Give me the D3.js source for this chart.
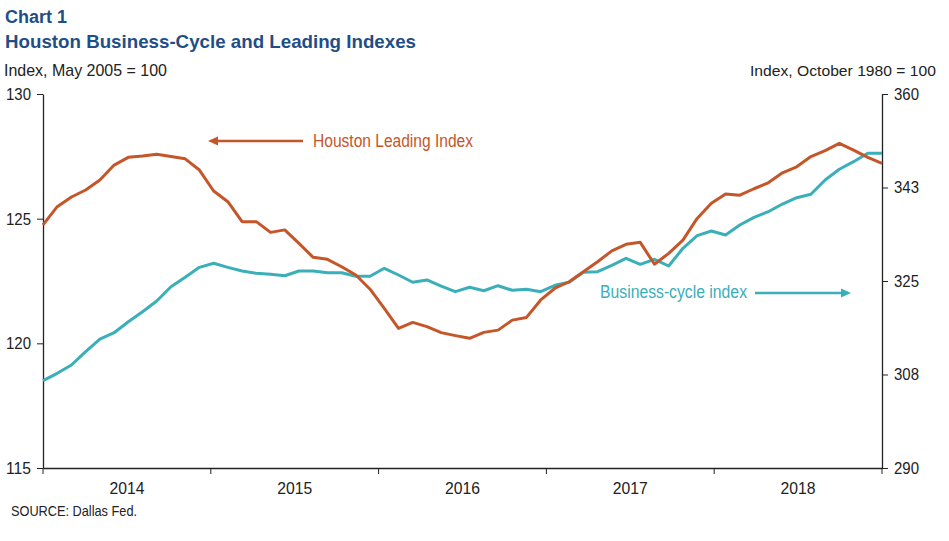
<!DOCTYPE html>
<html><head><meta charset="utf-8">
<script src="https://cdn.jsdelivr.net/npm/d3@7"></script>
<style>
body{margin:0;background:#fff;}
svg text{font-family:Arial,"Liberation Sans",sans-serif;}
</style></head>
<body><svg id="c" width="949" height="541"></svg>
<script>
const years = ["2014","2015","2016","2017","2018"];
const months = d3.range(60).map(i => years[Math.floor(i/12)] + "-" + String(i%12+1).padStart(2,"0"));
const leadingIndex = [124.75,125.48,125.87,126.15,126.55,127.15,127.46,127.51,127.58,127.49,127.40,126.95,
  126.11,125.68,124.88,124.88,124.45,124.55,124.01,123.45,123.37,123.07,122.74,122.17,
  121.40,120.60,120.84,120.67,120.43,120.31,120.20,120.44,120.53,120.93,121.04,121.74,
  122.21,122.47,122.87,123.27,123.71,123.97,124.05,123.17,123.61,124.14,125.01,125.62,
  125.99,125.94,126.20,126.44,126.84,127.08,127.49,127.73,128.02,127.75,127.46,127.22];
const businessCycle = [306.34,307.72,309.28,311.77,314.14,315.32,317.38,319.25,321.26,323.93,325.69,327.56,
  328.31,327.56,326.87,326.44,326.25,325.99,326.87,326.87,326.55,326.55,325.88,325.88,
  327.38,326.12,324.76,325.19,324.06,323.00,323.82,323.18,324.12,323.26,323.45,323.00,
  324.19,324.76,326.63,326.74,327.94,329.25,328.12,329.06,327.81,331.12,333.48,334.36,
  333.61,335.48,336.92,337.97,339.41,340.59,341.23,343.90,345.91,347.33,348.90,348.90];
const leftTicks = [115,120,125,130];
const rightTicks = [290,307.5,325,342.5,360];

const orange = "#C4562A", teal = "#3AAFB9", navy = "#1F4E87", ink = "#222";
const L = 43, R = 882, T = 94, B = 468;
const svg = d3.select("#c");

const x = d3.scalePoint().domain(months).range([L, R]);
const xYear = d3.scaleBand().domain(years).range([L, R]).padding(0);
const yL = d3.scaleLinear().domain([115,130]).range([B, T]);
const yR = d3.scaleLinear().domain([290,360]).range([B, T]);

function label(xp, yp, txt, size, color, width, anchor){
  const t = svg.append("text").attr("x",xp).attr("y",yp).attr("fill",color).attr("font-size",size)
    .attr("text-anchor",anchor||"start").text(txt);
  if(width) t.attr("textLength",width).attr("lengthAdjust","spacingAndGlyphs");
  return t;
}

// titles
svg.append("text").attr("x",5).attr("y",23).attr("fill",navy).attr("font-weight","bold").attr("font-size",18).text("Chart 1");
svg.append("text").attr("x",5).attr("y",48).attr("fill",navy).attr("font-weight","bold").attr("font-size",18.5)
  .attr("textLength",411).attr("lengthAdjust","spacingAndGlyphs").text("Houston Business-Cycle and Leading Indexes");
label(4, 76, "Index, May 2005 = 100", 17, ink, 163);
label(936, 76, "Index, October 1980 = 100", 15.5, ink, 186, "end");

// axes
const axL = svg.append("g").attr("transform",`translate(${L},0)`)
  .call(d3.axisLeft(yL).tickValues(leftTicks).tickSize(6).tickSizeOuter(0).tickPadding(6));
const axR = svg.append("g").attr("transform",`translate(${R},0)`)
  .call(d3.axisRight(yR).tickValues(rightTicks).tickFormat(d3.format(".0f")).tickSize(6).tickSizeOuter(0).tickPadding(6));
const axB = svg.append("g").attr("transform",`translate(0,${B})`)
  .call(d3.axisBottom(xYear).tickSize(0).tickPadding(14));
axB.selectAll("line.yb").data(d3.range(6)).enter().append("line").attr("class","yb")
  .attr("x1",i => L + i*xYear.bandwidth()).attr("x2",i => L + i*xYear.bandwidth())
  .attr("y1",0).attr("y2",6).attr("stroke",ink).attr("stroke-width",1);
[axL,axR,axB].forEach(a=>{
  a.attr("font-family",null).attr("font-size",null);
  a.selectAll("path.domain").attr("stroke",ink).attr("stroke-width",1.3);
  a.selectAll(".tick line").attr("stroke",ink);
  a.selectAll("text").attr("font-size",17).attr("fill",ink).attr("lengthAdjust","spacingAndGlyphs");
});
axL.selectAll("text").attr("textLength",25);
axR.selectAll("text").attr("textLength",25);
axB.selectAll("text").attr("textLength",35);

// lines
const lineL = d3.line().x((d,i)=>x(months[i])).y(d=>yL(d));
const lineR = d3.line().x((d,i)=>x(months[i])).y(d=>yR(d));
svg.append("path").datum(businessCycle).attr("d",lineR).attr("fill","none").attr("stroke",teal).attr("stroke-width",3).attr("stroke-linejoin","round");
svg.append("path").datum(leadingIndex).attr("d",lineL).attr("fill","none").attr("stroke",orange).attr("stroke-width",3).attr("stroke-linejoin","round");

// annotations
label(313, 147, "Houston Leading Index", 17.5, orange, 160);
svg.append("line").attr("x1",303).attr("x2",216).attr("y1",141).attr("y2",141).attr("stroke",orange).attr("stroke-width",2.5);
svg.append("path").attr("d","M208,141 L218,136.5 L218,145.5 Z").attr("fill",orange);

label(600, 298, "Business-cycle index", 17.5, teal, 147);
svg.append("line").attr("x1",755).attr("x2",842).attr("y1",293).attr("y2",293).attr("stroke",teal).attr("stroke-width",2.5);
svg.append("path").attr("d","M851,293 L841,288.5 L841,297.5 Z").attr("fill",teal);

label(11, 516, "SOURCE: Dallas Fed.", 15, ink, 126);
</script></body></html>
